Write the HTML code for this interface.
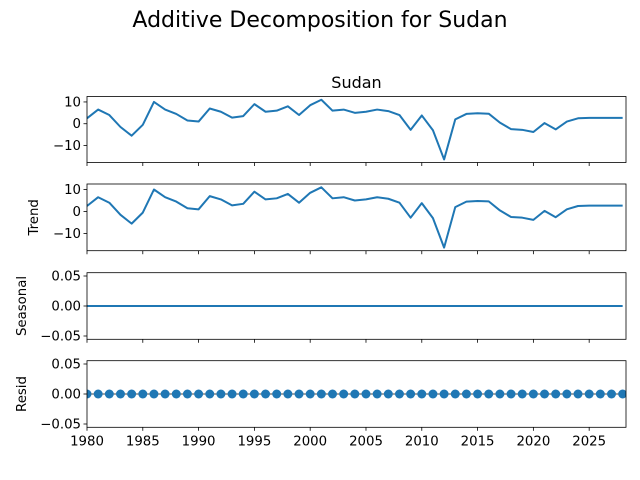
<!DOCTYPE html>
<html><head><meta charset="utf-8"><style>
body{margin:0;background:#fff;}
svg{display:block;font-family:"DejaVu Sans","Liberation Sans",sans-serif;}
</style></head><body>
<svg id="chart" width="640" height="480" viewBox="0 0 640 480">
<text x="320" y="27" font-size="22" text-anchor="middle">Additive Decomposition for Sudan</text>
<text x="356.5" y="88" font-size="16" text-anchor="middle">Sudan</text>
<g id="g"></g>
</svg>
<script>
const years = [];
for (let y = 1980; y <= 2028; y++) years.push(y);
const observed = [2.5,6.5,4,-1.5,-5.5,-0.5,10,6.5,4.5,1.5,1,7,5.5,2.8,3.5,9,5.5,6,8,4,8.5,11,6,6.5,5,5.5,6.5,5.8,4,-2.8,3.8,-3,-16.4,2,4.5,4.8,4.6,0.5,-2.5,-2.8,-3.8,0.3,-2.6,1,2.5,2.7,2.7,2.7,2.7];
const trend = observed.slice();
const seasonal = years.map(() => 0);
const resid = years.map(() => 0);
const xTicks = [1980,1985,1990,1995,2000,2005,2010,2015,2020,2025];
const bigTicks = [10,0,-10];
const smallTicks = [0.05,0,-0.05];

const NS = "http://www.w3.org/2000/svg";
const g = document.getElementById('g');
const X0 = 87, X1 = 626, XMIN = 1980, XMAX = 2028.3;
const xs = v => X0 + (v - XMIN) / (XMAX - XMIN) * (X1 - X0);
function mk(tag, attrs, parent) {
  const e = document.createElementNS(NS, tag);
  for (const k in attrs) e.setAttribute(k, attrs[k]);
  (parent || g).appendChild(e);
  return e;
}
const panels = [
  {top:96.5, bot:162.5, lo:-17.8, hi:12.5, data:observed, ticks:bigTicks, fmt:v=>v<0?'\u2212'+(-v):''+v, label:'', kind:'line', name:'observed'},
  {top:184, bot:250.7, lo:-17.8, hi:12.5, data:trend, ticks:bigTicks, fmt:v=>v<0?'\u2212'+(-v):''+v, label:'Trend', kind:'line', name:'trend'},
  {top:272.7, bot:339.3, lo:-0.0555, hi:0.0555, data:seasonal, ticks:smallTicks, fmt:v=>v<0?'\u2212'+(-v).toFixed(2):v.toFixed(2), label:'Seasonal', kind:'line', name:'seasonal'},
  {top:360.7, bot:427.3, lo:-0.0555, hi:0.0555, data:resid, ticks:smallTicks, fmt:v=>v<0?'\u2212'+(-v).toFixed(2):v.toFixed(2), label:'Resid', kind:'dots', name:'resid'}
];
panels.forEach((p, i) => {
  const ys = v => p.bot - (v - p.lo) / (p.hi - p.lo) * (p.bot - p.top);
  const pg = mk('g', {});
  
  
  const clipId = 'c' + i;
  const cp = mk('clipPath', {id: clipId}, pg);
  mk('rect', {x: X0, y: p.top, width: X1 - X0, height: p.bot - p.top}, cp);
  if (p.kind === 'line') {
    const d = p.data.map((v, j) => (j ? 'L' : 'M') + xs(years[j]).toFixed(2) + ' ' + ys(v).toFixed(2)).join(' ');
    const ln = mk('path', {d: d, fill: 'none', stroke: '#1f77b4', 'stroke-width': 2, 'stroke-linejoin': 'round', 'clip-path': 'url(#' + clipId + ')'}, pg);
    
    
  } else {
    mk('line', {x1: X0, x2: X1, y1: ys(0), y2: ys(0), stroke: '#000', 'stroke-width': 0.8}, pg);
    p.data.forEach((v, j) => {
      const c = mk('circle', {cx: xs(years[j]), cy: ys(v), r: 4.5, fill: '#1f77b4', 'clip-path': 'url(#' + clipId + ')'}, pg);
      
      
    });
  }
  mk('rect', {x: X0, y: p.top, width: X1 - X0, height: p.bot - p.top, fill: 'none', stroke: '#000', 'stroke-width': 0.8}, pg);
  p.ticks.forEach(t => {
    const y = ys(t);
    mk('line', {x1: X0 - 3.5, x2: X0, y1: y, y2: y, stroke: '#000', 'stroke-width': 0.8}, pg);
    const tx = mk('text', {x: X0 - 6, y: y + 4.5, 'font-size': 13.3, 'text-anchor': 'end'}, pg);
    tx.textContent = p.fmt(t);
    
    
  });
  xTicks.forEach(t => {
    mk('line', {x1: xs(t), x2: xs(t), y1: p.bot, y2: p.bot + 3.5, stroke: '#000', 'stroke-width': 0.8}, pg);
    if (i === 3) {
      const tx = mk('text', {x: xs(t), y: p.bot + 18, 'font-size': 13.3, 'text-anchor': 'middle'}, pg);
      tx.textContent = t;
      
      
    }
  });
  if (p.label) {
    const cy = (p.top + p.bot) / 2;
    const lx = i === 1 ? 38 : 26;
    const lb = mk('text', {x: lx, y: cy, 'font-size': 13.3, 'text-anchor': 'middle', transform: 'rotate(-90 ' + lx + ' ' + cy + ')'}, pg);
    lb.textContent = p.label;
    
    
  }
});
</script>
</body></html>
